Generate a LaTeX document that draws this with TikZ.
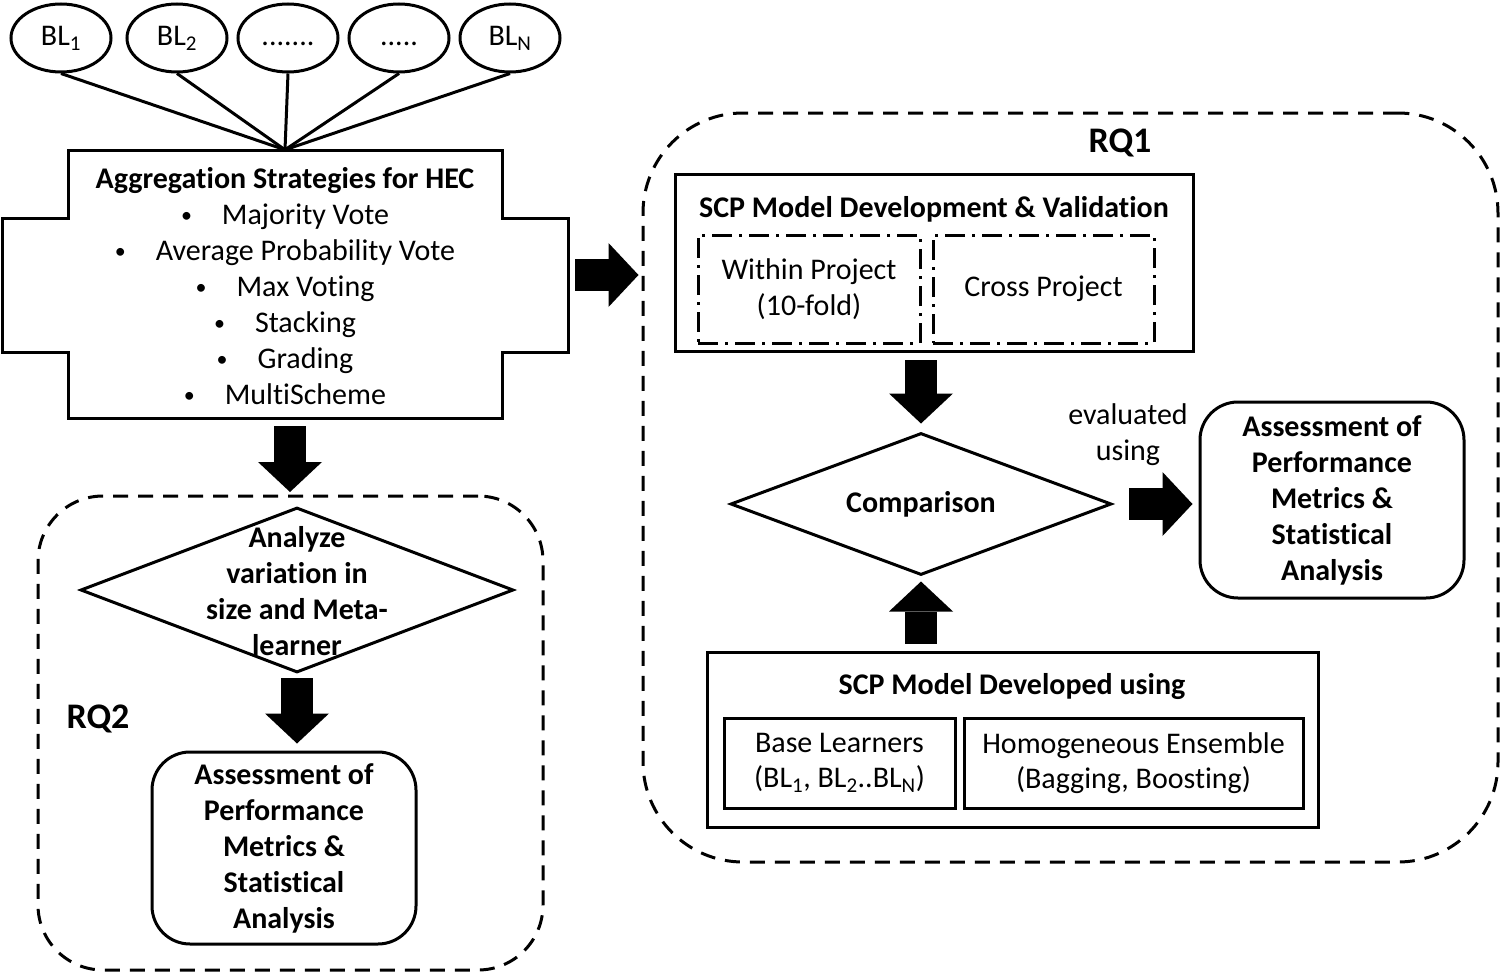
\documentclass[tikz,border=0pt]{standalone}
\usepackage{fontspec}
\setmainfont{Carlito}[RawFeature={-liga}]
\usetikzlibrary{shapes.geometric,arrows.meta,calc}
\newcommand{\mybul}{\raisebox{2pt}{\fontsize{22}{22}\selectfont\textbullet}}
\tikzset{
  txt/.style={font=\fontsize{30}{36}\selectfont, align=center, inner sep=0pt},
  btxt/.style={txt, font=\fontsize{30}{36}\selectfont\bfseries},
  box/.style={draw, line width=3pt, inner sep=0pt},
  bl/.style={draw, ellipse, line width=3pt, minimum width=100pt, minimum height=68pt, inner sep=0pt, text height=20pt, text depth=5pt, font=\fontsize{30}{36}\selectfont},
  rbox/.style={box, rounded corners=38pt, align=center, font=\fontsize{30}{36}\selectfont\bfseries},
  dia/.style={draw, diamond, line width=3pt, inner sep=0pt},
  rq/.style={draw, line width=3pt, dash pattern=on 15pt off 10pt, inner sep=0pt},
  dd/.style={draw, line width=3pt, dash pattern=on 20pt off 7pt on 3pt off 7pt, inner sep=0pt, align=center, font=\fontsize{30}{36}\selectfont},
  barrow/.style={line width=32pt, -{Triangle[width=64pt,length=30pt,line width=0pt]}},
  conn/.style={line width=3pt}
}
\begin{document}
\begin{tikzpicture}[x=1pt,y=-1pt]
\useasboundingbox (0,0) rectangle (1500,974);

% base learners
\node[bl] (bl1) at (61,38) {BL\textsubscript{1}};
\node[bl] (bl2) at (177,38) {BL\textsubscript{2}};
\node[bl] (bl3) at (288,38) {.......};
\node[bl] (bl4) at (399,38) {.....};
\node[bl] (bl5) at (510,38) {BL\textsubscript{N}};

% aggregation box
\node[minimum width=434pt, minimum height=268pt, inner sep=0pt] (agg) at (285,284) {};
\draw[line width=3pt] (68,150) -- (502,150) -- (502,218) -- (568,218) -- (568,352) -- (502,352)
  -- (502,418) -- (68,418) -- (68,352) -- (2,352) -- (2,218) -- (68,218) -- cycle;
\coordinate (aggR) at (568,275);
\node[txt] (aggtxt) at (285,286) {\bfseries Aggregation Strategies for HEC\\
  \mybul\hspace{30pt}Majority Vote\\
  \mybul\hspace{30pt}Average Probability Vote\\
  \mybul\hspace{30pt}Max Voting\\
  \mybul\hspace{30pt}Stacking\\
  \mybul\hspace{30pt}Grading\\
  \mybul\hspace{30pt}MultiScheme};

\foreach \b in {bl1,bl2,bl3,bl4,bl5} \draw[conn] (\b.south) -- (agg.north);

% RQ2
\node[rq, rounded corners=65pt, minimum width=505pt, minimum height=474pt] (rq2) at (290.5,733) {};
\node[dia, minimum width=433pt, minimum height=165pt] (d2) at (297,590) {};
\node[btxt] (d2txt) at (297,591) {Analyze\\variation in\\size and Meta-\\learner};
\node[btxt, font=\fontsize{36}{40}\selectfont\bfseries] (rq2lbl) at (98,719) {RQ2};
\node[rbox, minimum width=264pt, minimum height=192pt] (asm2) at (284,848)
  {Assessment of\\Performance\\Metrics \&\\Statistical\\Analysis};

% RQ1
\node[rq, rounded corners=100pt, minimum width=855pt, minimum height=749pt] (rq1) at (1070.5,487.5) {};
\node[btxt, font=\fontsize{36}{40}\selectfont\bfseries] (rq1lbl) at (1120,143) {RQ1};
\node[box, minimum width=518pt, minimum height=177pt] (dev) at (934,263) {};
\node[btxt] (devtitle) at (934,209) {SCP Model Development \& Validation};
\node[dd, minimum width=222pt, minimum height=108pt] (within) at (809,289) {Within Project\\(10-fold)};
\node[dd, minimum width=221pt, minimum height=108pt] (cross) at (1043.5,289) {Cross Project};

\node[dia, minimum width=381pt, minimum height=142pt] (comp) at (921,504) {};
\node[btxt] (comptxt) at (921,504) {Comparison};

\node[txt] (eval) at (1128,435) {evaluated\\using};
\node[rbox, minimum width=264pt, minimum height=196pt] (asm1) at (1332,500)
  {Assessment of\\Performance\\Metrics \&\\Statistical\\Analysis};

\node[box, minimum width=611pt, minimum height=175pt] (dev2) at (1012.5,739.5) {};
\node[btxt] (dev2title) at (1012,687) {SCP Model Developed using};
\node[box, minimum width=231pt, minimum height=90pt, align=center, font=\fontsize{30}{35}\selectfont] (base) at (839.5,763)
  {Base Learners\\(BL\textsubscript{1}, BL\textsubscript{2}..BL\textsubscript{N})};
\node[box, minimum width=339pt, minimum height=90pt, align=center, font=\fontsize{30}{35}\selectfont] (homog) at (1133.5,763)
  {Homogeneous Ensemble\\(Bagging, Boosting)};

% block arrows
\draw[barrow, shorten <=8pt, shorten >=14pt] ([xshift=5pt]agg.south) -- ([xshift=5pt]agg.south |- d2.north);
\draw[barrow, shorten <=4pt, shorten >=7pt] (d2.south) -- (d2.south |- asm2.north);
\draw[barrow, shorten <=7pt, shorten >=3pt] (aggR) -- (aggR -| rq1.west);
\draw[barrow, shorten <=7pt, shorten >=8pt] (dev.south -| comp.north) -- (comp.north);
\draw[barrow, shorten <=7pt, shorten >=5pt] (dev2.north -| comp.south) -- (comp.south);
\draw[barrow, shorten <=16pt, shorten >=6pt] (comp.east) -- (comp.east -| asm1.west);
\end{tikzpicture}
\end{document}
